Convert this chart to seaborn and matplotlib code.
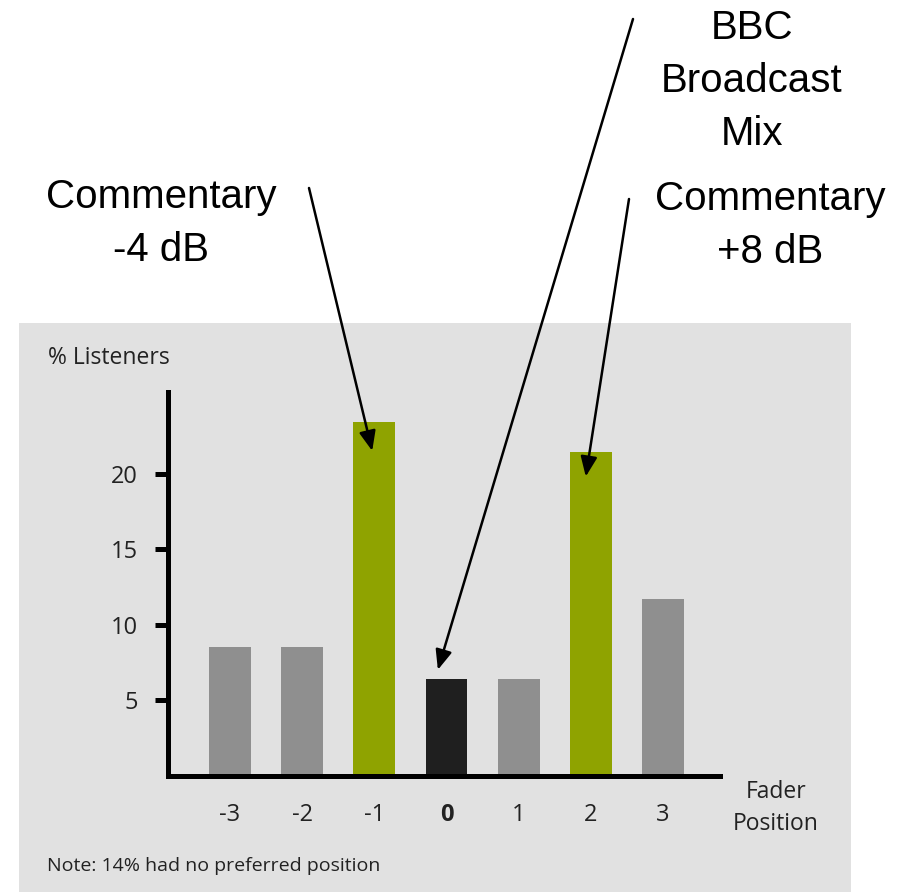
import matplotlib
matplotlib.use("Agg")
import matplotlib.pyplot as plt
from matplotlib.patches import Rectangle
import pandas as pd
import seaborn as sns

# Preferred fader position survey
positions = ["-3", "-2", "-1", "0", "1", "2", "3"]
listeners = [8.5, 8.5, 23.4, 6.4, 6.4, 21.4, 11.7]
groups = ["other", "other", "commentary", "broadcast", "other", "commentary", "other"]
group_colors = {"other": "#8f8f8f", "commentary": "#8fa300", "broadcast": "#1f1f1f"}
y_ticks = [5, 10, 15, 20]

sns.set_theme(style="white")
plt.rcParams["font.family"] = ["Open Sans", "DejaVu Sans"]

W, H = 913, 892
fig = plt.figure(figsize=(W / 100, H / 100), dpi=100)
fig.patch.set_facecolor("white")

# grey chart panel
fig.add_artist(Rectangle((19 / W, 0), (851 - 19) / W, (892 - 323) / H,
                         transform=fig.transFigure, facecolor="#e1e1e1",
                         edgecolor="none", zorder=0))

ax = fig.add_axes([168 / W, 116.5 / H, (720 - 168) / W, (775.5 - 392) / H])
ax.set_facecolor("none")

df = pd.DataFrame({"position": positions, "listeners": listeners, "group": groups})
sns.barplot(data=df, x="position", y="listeners", hue="group", order=positions,
            palette=group_colors, width=0.58, dodge=False, legend=False,
            saturation=1, linewidth=0, ax=ax)

ax.set_xlim(-0.86, 6.79)
ax.set_ylim(0, 25.4)
ax.set_yticks(y_ticks)
ax.set_xlabel("")
ax.set_ylabel("")
sns.despine(ax=ax)
for side in ("left", "bottom"):
    ax.spines[side].set_linewidth(3.6)
    ax.spines[side].set_color("black")
ax.tick_params(axis="y", length=9.5, width=3.6, color="black", pad=12,
               labelsize=17, labelcolor="#222222", left=True)
ax.tick_params(axis="x", length=0, pad=20, labelsize=17, labelcolor="#222222")
ax.get_xticklabels()[3].set_fontweight("bold")

txt = "#222222"
fig.text(48 / W, (892 - 358) / H, "% Listeners", fontsize=16.5, color=txt,
         ha="left", va="center")
fig.text(776 / W, (892 - 808) / H, "Fader\nPosition", fontsize=16.5, color=txt,
         ha="center", va="center", linespacing=1.4)
fig.text(47 / W, (892 - 866) / H, "Note: 14% had no preferred position",
         fontsize=14, color=txt, ha="left", va="center")

# callouts (y is the baseline of the last line)
ann_font = dict(family=["Liberation Sans", "DejaVu Sans"], fontsize=29,
                color="black", ha="center", va="baseline", linespacing=1.5)
fig.text(161 / W, (892 - 260.7) / H, "Commentary\n-4 dB", **ann_font)
fig.text(752 / W, (892 - 145) / H, "BBC\nBroadcast\nMix", **ann_font)
fig.text(770 / W, (892 - 263) / H, "Commentary\n+8 dB", **ann_font)

arrow = dict(arrowstyle="-|>,head_length=0.6,head_width=0.25", mutation_scale=20,
             lw=1.8, color="black", shrinkA=0, shrinkB=0)
for tip, start in [((1.97, 21.5), (309, 892 - 188)),
                   ((2.88, 7.0), (633, 892 - 19)),
                   ((4.93, 19.8), (629, 892 - 199))]:
    ax.annotate("", xy=tip, xycoords="data", xytext=start,
                textcoords="figure pixels", arrowprops=arrow,
                annotation_clip=False)

fig.savefig("out.png", dpi=100, facecolor=fig.get_facecolor())
